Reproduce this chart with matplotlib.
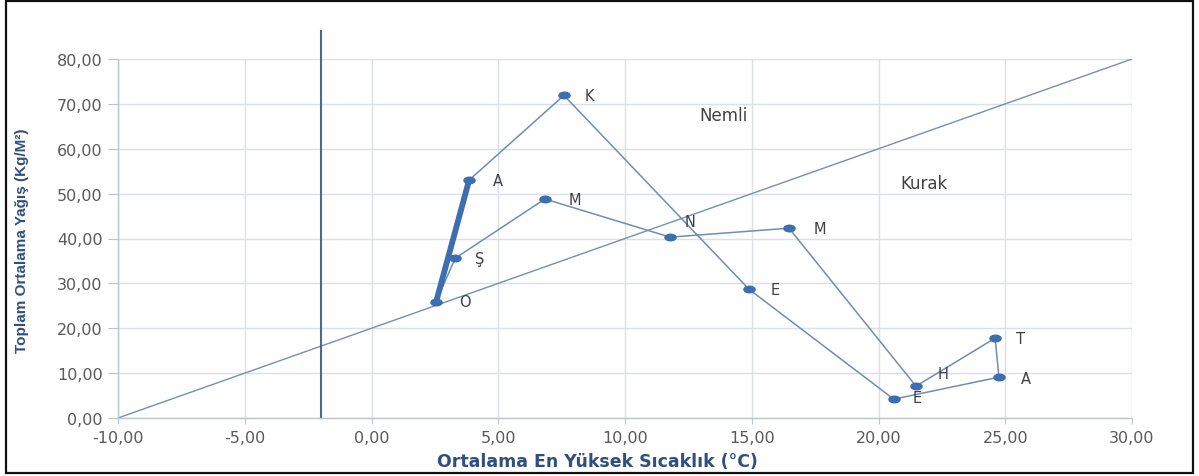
import matplotlib
matplotlib.use("Agg")
import matplotlib.pyplot as plt
from matplotlib.path import Path
from matplotlib.patches import Rectangle
import numpy as np

# ---- data ----
months = ["O", "Ş", "M", "N", "M", "H", "T", "A", "E", "E", "K", "A"]
temp = [2.55, 3.30, 6.84, 11.78, 16.47, 21.48, 24.60, 24.75, 20.60, 14.89, 7.59, 3.85]
precip = [25.9, 35.6, 48.8, 40.3, 42.3, 7.1, 17.8, 9.1, 4.2, 28.7, 71.9, 53.0]
ref_x = [-10, 30]
ref_y = [0, 80]
vline_x = -2
xticks = [-10, -5, 0, 5, 10, 15, 20, 25, 30]
yticks = [0, 10, 20, 30, 40, 50, 60, 70, 80]
label_offsets = [(29, 0), (25, 0), (30, 0), (20, 16), (31, 0), (27, 13),
                 (25, 0), (27, -1), (23, 2), (26, 0), (25, 0), (29, 0)]

W, H = 1199, 477
fig = plt.figure(figsize=(W / 100, H / 100), dpi=100)
ax = fig.add_axes([118 / W, (H - 419) / H, (1132 - 118) / W, (419 - 60) / H])

grid_c = "#d9e0e8"
ax.set_xlim(-10, 30)
ax.set_ylim(0, 80)
ax.set_xticks(xticks)
ax.set_yticks(yticks)
fmt = lambda v: f"{v:.2f}".replace(".", ",")
ax.set_xticklabels([fmt(v) for v in xticks])
ax.set_yticklabels([fmt(v) for v in yticks])
ax.grid(True, color=grid_c, linewidth=1.0)
ax.set_axisbelow(True)
for s in ["top", "right"]:
    ax.spines[s].set_visible(False)
for s in ["left", "bottom"]:
    ax.spines[s].set_color("#b8c4d2")
    ax.spines[s].set_linewidth(1.0)
ax.tick_params(axis="y", direction="out", length=7, color="#b8c4d2",
               labelsize=11.5, labelcolor="#595959", pad=4)
ax.tick_params(axis="x", direction="out", length=4, color="#b8c4d2",
               labelsize=11.5, labelcolor="#595959", pad=5)

# reference lines
ax.plot(ref_x, ref_y, color="#7390b4", linewidth=1.0, zorder=2)
ax.plot([vline_x, vline_x], [0, 86.3], color="#4d6a86", linewidth=1.5,
        clip_on=False, zorder=2)

# ellipse marker
circ = Path.unit_circle()
ell = Path(circ.vertices * np.array([1.7, 1.0]), circ.codes)

line_c = "#6f8db3"
mark_c = "#3d6eb0"
ax.plot(temp, precip, color=line_c, linewidth=1.1, zorder=3)
ax.plot([temp[-1], temp[0]], [precip[-1], precip[0]], color=mark_c,
        linewidth=4.2, solid_capstyle="round", zorder=3)
ax.plot(temp, precip, linestyle="none", marker=ell, markersize=8,
        markerfacecolor=mark_c, markeredgecolor=mark_c, zorder=4)

for m, x, y, (dx, dy) in zip(months, temp, precip, label_offsets):
    ax.annotate(m, (x, y), xytext=(dx * 0.72, dy * 0.72),
                textcoords="offset points", ha="center", va="center",
                fontsize=10.5, color="#404040")

ax.text(13.9, 67.5, "Nemli", ha="center", va="center", fontsize=12,
        color="#404040", fontweight="medium")
ax.text(21.8, 52.4, "Kurak", ha="center", va="center", fontsize=12,
        color="#404040", fontweight="medium")

fig.text(597 / W, 1 - 462 / H, "Ortalama En Yüksek Sıcaklık (°C)",
         ha="center", va="center", fontsize=12.5, fontweight="bold",
         color="#2f4f7f")
fig.text(22 / W, 1 - 241 / H, "Toplam Ortalama Yağış (Kg/M²)",
         ha="center", va="center", rotation=90, fontsize=11,
         fontweight="bold", color="#2f4f7f",
         family=["Liberation Sans", "DejaVu Sans"])

# outer frame
fig.patches.append(Rectangle((6 / W, 1 - 474 / H), (1193 - 6) / W, (474 - 2) / H,
                             transform=fig.transFigure, fill=False,
                             edgecolor="#111111", linewidth=1.6))

fig.savefig("out.png", dpi=100)
